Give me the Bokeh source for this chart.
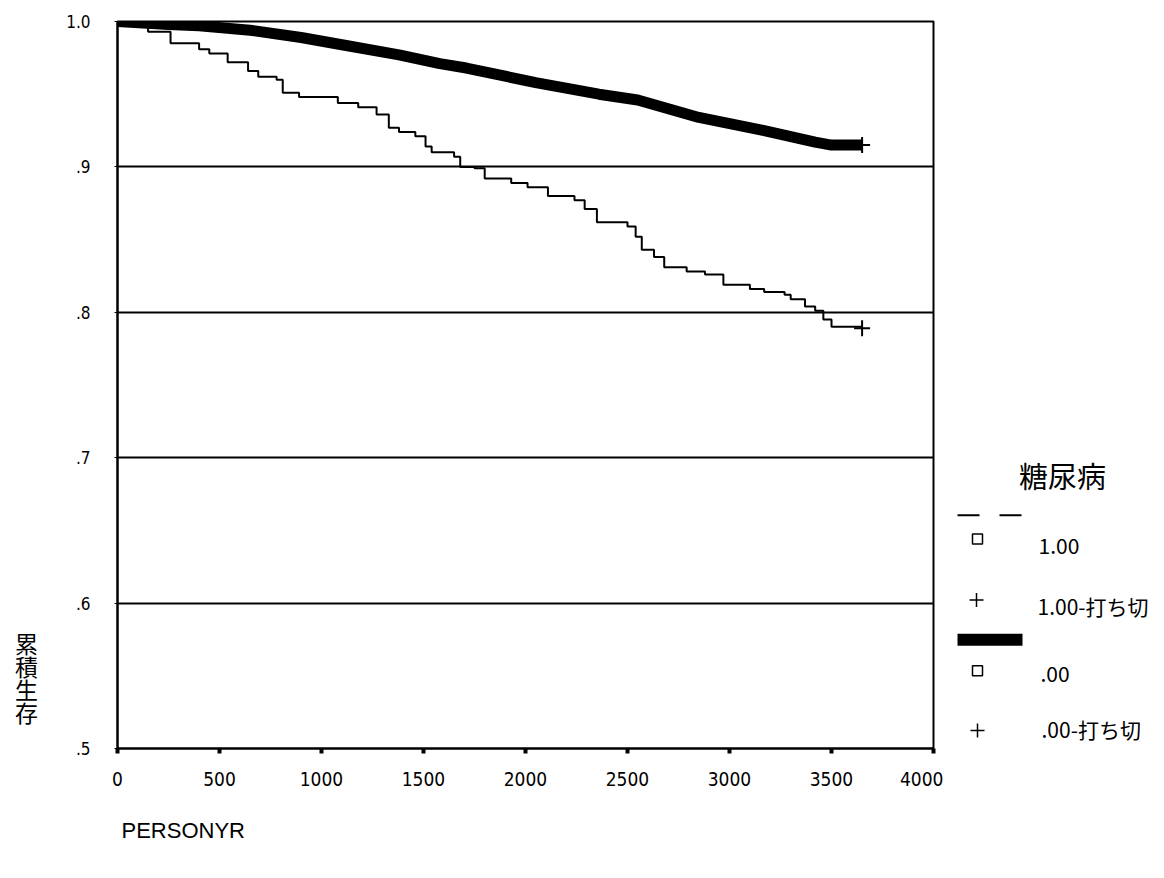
from bokeh.plotting import figure
from bokeh.layouts import row
from bokeh.models import FixedTicker, Range1d, Title
from bokeh.embed import file_html
from bokeh.resources import INLINE
from bokeh.core.properties import value

# ---------------- data ----------------
# group 1.00 (diabetes) Kaplan-Meier steps
t_diab = [0, 150, 260, 400, 450, 540, 640, 690, 780, 810, 890, 1080, 1180, 1270,
          1330, 1380, 1460, 1510, 1540, 1650, 1680, 1750, 1800, 1930, 2010, 2110,
          2240, 2290, 2350, 2500, 2540, 2570, 2630, 2680, 2790, 2880, 2970, 3100,
          3170, 3270, 3300, 3370, 3420, 3460, 3500, 3650]
s_diab = [1.000, 0.993, 0.985, 0.981, 0.978, 0.972, 0.966, 0.962, 0.960, 0.951,
          0.948, 0.944, 0.941, 0.936, 0.927, 0.924, 0.921, 0.914, 0.910, 0.907,
          0.900, 0.899, 0.892, 0.889, 0.886, 0.880, 0.877, 0.871, 0.862, 0.859,
          0.852, 0.843, 0.838, 0.831, 0.828, 0.826, 0.819, 0.816, 0.814, 0.812,
          0.809, 0.804, 0.801, 0.795, 0.790, 0.789]
# group .00 (no diabetes)
t_nodiab = [0, 250, 400, 650, 900, 1100, 1380, 1580, 1710, 2050, 2360, 2550,
            2850, 3170, 3420, 3500, 3650]
s_nodiab = [1.000, 0.998, 0.997, 0.994, 0.989, 0.984, 0.977, 0.971, 0.968,
            0.958, 0.950, 0.946, 0.934, 0.925, 0.917, 0.915, 0.915]
# censoring marks at end of follow-up
censor_t = [3650, 3650]
censor_s = [0.789, 0.915]

x_ticks = [0, 500, 1000, 1500, 2000, 2500, 3000, 3500, 4000]
x_tick_labels = ["0", "500", "1000", "1500", "2000", "2500", "3000", "3500", "4000"]
y_ticks = [0.5, 0.6, 0.7, 0.8, 0.9, 1.0]
y_tick_labels = [".5", ".6", ".7", ".8", ".9", "1.0"]
grid_values = [0.6, 0.7, 0.8, 0.9]

x_title = "PERSONYR"
y_title_chars = ["累", "積", "生", "存"]
legend_title = "糖尿病"
legend_labels = ["1.00", "1.00-打ち切", ".00", ".00-打ち切"]

# ---------------- layout (page pixels) ----------------
WL = 50                      # left strip holding the stacked y title
BL, BR, BT, BB = 67, 10, 21, 120
FW, FH = 816, 729
W1 = BL + FW + BR
H = BT + FH + BB
W2 = 1160 - WL - W1
FRAME_TOP, FRAME_BOTTOM = BT, BT + FH


def strip_figure(width, x_start):
    f = figure(width=width, height=H,
               x_range=Range1d(x_start, x_start + width),
               y_range=Range1d(FRAME_BOTTOM, FRAME_TOP),
               output_backend="svg", toolbar_location=None,
               x_axis_location=None, y_axis_location=None,
               min_border_left=0, min_border_right=0,
               min_border_top=BT, min_border_bottom=BB)
    f.outline_line_color = None
    f.grid.visible = False
    f.background_fill_color = "white"
    f.border_fill_color = "white"
    return f


# ---------------- main plot ----------------
p = figure(width=W1, height=H, x_range=Range1d(0, 4000), y_range=Range1d(0.5, 1.0),
           output_backend="svg", toolbar_location=None,
           min_border_left=BL, min_border_right=BR, min_border_top=BT,
           min_border_bottom=BB)
p.background_fill_color = "white"
p.border_fill_color = "white"
p.outline_line_color = "black"
p.outline_line_width = 2
p.outline_line_alpha = 1

p.xgrid.visible = False
p.ygrid.ticker = FixedTicker(ticks=grid_values)
p.ygrid.grid_line_color = "black"
p.ygrid.grid_line_width = 2
p.ygrid.grid_line_alpha = 1

tick_font = "DejaVu Sans Condensed"
xa = p.xaxis[0]
xa.ticker = FixedTicker(ticks=x_ticks)
xa.major_label_overrides = {t: l for t, l in zip(x_ticks, x_tick_labels)}
xa.major_tick_out = 5
xa.major_tick_in = 0
xa.major_tick_line_width = 4
xa.minor_tick_line_color = None
xa.axis_line_width = 2
xa.major_label_standoff = 18
xa.major_label_text_font = tick_font
xa.major_label_text_font_size = "19px"
xa.major_label_text_color = "black"

ya = p.yaxis[0]
ya.ticker = FixedTicker(ticks=y_ticks)
ya.major_label_overrides = {t: l for t, l in zip(y_ticks, y_tick_labels)}
ya.major_tick_out = 3
ya.major_tick_in = 0
ya.major_tick_line_width = 1
ya.minor_tick_line_color = None
ya.axis_line_width = 2
ya.major_label_standoff = 24
ya.major_label_text_font = tick_font
ya.major_label_text_font_size = "17px"
ya.major_label_text_baseline = "top"
ya.major_label_text_color = "black"

# curves
p.line(t_nodiab, s_nodiab, line_color="black", line_width=11, line_join="round")
p.step(t_diab, s_diab, mode="after", line_color="black", line_width=2)
p.scatter(censor_t, censor_s, marker="cross", size=16, line_color="black",
          line_width=2)

# x title, left aligned under the axis
p.add_layout(Title(text=x_title, align="left", offset=4, standoff=55,
                   text_font="Liberation Sans", text_font_size="22px",
                   text_font_style="normal", text_color="black"), "below")

# ---------------- left strip: stacked y title ----------------
ys = strip_figure(WL, 0)
ys.text(x=[26] * len(y_title_chars), y=[644, 667, 690, 713], text=y_title_chars,
        text_font=value("Noto Sans CJK JP"), text_font_size="23px",
        text_align="center", text_baseline="middle", text_color="black")

# ---------------- legend panel ----------------
x0 = WL + W1
lg = strip_figure(W2, x0)
lg.text(x=[1062], y=[476], text=[legend_title], text_font=value("Noto Sans CJK JP"),
        text_font_size="29px", text_align="center", text_baseline="middle",
        text_color="black")
# group 1.00 symbol: dashed thin line
lg.line([957, 1022], [516, 516], line_color="black", line_width=2, line_dash="22 20")
lg.scatter([977], [540], marker="square", size=10, fill_color=None,
           line_color="black", line_width=1.5)
lg.scatter([976], [601], marker="cross", size=14, line_color="black", line_width=1.5)
# group .00 symbol: thick bar
lg.line([957, 1022], [641, 641], line_color="black", line_width=12)
lg.scatter([977], [672], marker="square", size=10, fill_color=None,
           line_color="black", line_width=1.5)
lg.scatter([977], [732], marker="cross", size=14, line_color="black", line_width=1.5)

lg.text(x=[1038, 1037, 1040, 1041], y=[547, 607, 675, 730], text=legend_labels,
        text_font=value("Noto Sans CJK JP"), text_font_size="21px",
        text_align="left", text_baseline="middle", text_color="black")

layout = row(ys, p, lg)
open("out.html", "w").write(file_html(layout, INLINE))
